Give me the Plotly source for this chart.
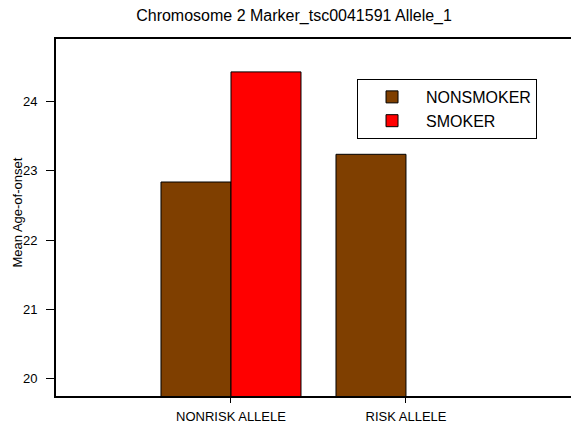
import plotly.graph_objects as go

categories = ["NONRISK ALLELE", "RISK ALLELE"]
nonsmoker = [22.84, 23.24]
smoker = [24.43, None]
series_names = ["NONSMOKER", "SMOKER"]
y_ticks = [20, 21, 22, 23, 24]
y_title = "Mean Age-of-onset"

font = "Liberation Sans, Arial, sans-serif"

fig = go.Figure()
fig.add_trace(go.Bar(x=[0, 1], y=nonsmoker, name=series_names[0],
                     marker=dict(color="#7F3F00", line=dict(color="black", width=1)),
                     base=0))
fig.add_trace(go.Bar(x=[0, 1], y=smoker, name=series_names[1],
                     marker=dict(color="#FF0000", line=dict(color="black", width=1)),
                     base=0))

fig.update_layout(
    width=571, height=423,
    barmode="group", bargap=0.2, bargroupgap=0,
    plot_bgcolor="white", paper_bgcolor="white",
    margin=dict(l=56, r=0, t=39, b=27, autoexpand=False),
    font=dict(family=font, color="black"),
    title=dict(text="Chromosome 2 Marker_tsc0041591 Allele_1", x=0.515, xanchor="center",
               y=0.963, yanchor="middle", font=dict(size=16, family=font)),
    xaxis=dict(range=[-1, 1.943], tickmode="array", tickvals=[0, 1], ticktext=categories,
               showline=True, linecolor="black", linewidth=2, mirror=True,
               ticks="outside", ticklen=5, tickcolor="black", showgrid=False, zeroline=False,
               tickfont=dict(size=13, family=font), automargin=False, ticklabelstandoff=2),
    yaxis=dict(range=[19.75, 24.905], tickmode="array", tickvals=y_ticks,
               showline=True, linecolor="black", linewidth=2, mirror=False,
               ticks="outside", ticklen=8, tickcolor="black", showgrid=False, zeroline=False,
               tickfont=dict(size=13, family=font), automargin=False, ticklabelstandoff=6),
    annotations=[dict(text=y_title, xref="paper", yref="paper", x=0, y=0.514,
                      xshift=-38, xanchor="center", yanchor="middle", textangle=-90,
                      showarrow=False, font=dict(size=13, family=font))],
    legend=dict(x=0.5845, y=0.888, xanchor="left", yanchor="top",
                bordercolor="black", borderwidth=1, bgcolor="white",
                font=dict(size=16, family=font), tracegroupgap=0,
                itemwidth=58),
    showlegend=True,
)

fig.write_html("out.html", config={"displayModeBar": False},
               post_script="document.body.style.margin='0px';")
